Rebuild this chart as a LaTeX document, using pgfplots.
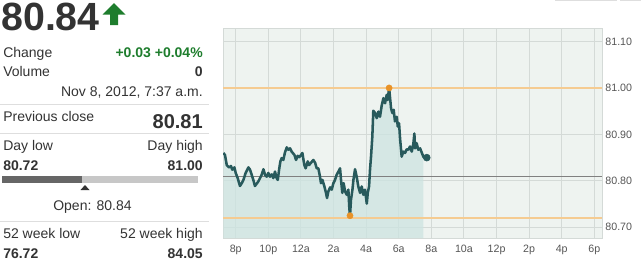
\documentclass[border=0pt]{standalone}
\usepackage{pgfplots}
\pgfplotsset{compat=1.18}
\usepackage{pgfplotstable}
\usepackage{fontspec}
\setmainfont{Liberation Sans}
\definecolor{bgc}{RGB}{238,243,240}
\definecolor{fillc}{RGB}{205,228,225}
\definecolor{gridc}{RGB}{212,218,215}
\definecolor{linec}{RGB}{40,90,92}
\definecolor{orangel}{RGB}{245,203,145}
\definecolor{oranged}{RGB}{232,146,40}
\definecolor{txt}{RGB}{51,51,51}
\definecolor{labc}{RGB}{85,85,85}
\definecolor{greenc}{RGB}{30,125,45}
\definecolor{sepc}{RGB}{222,222,222}

\pgfplotstableread{
h v
-0.76 80.860
-0.66 80.856
-0.55 80.834
-0.41 80.829
-0.29 80.832
-0.21 80.824
-0.08 80.829
0.00 80.817
0.12 80.806
0.26 80.789
0.37 80.795
0.47 80.802
0.61 80.817
0.78 80.829
0.88 80.824
0.98 80.813
1.08 80.802
1.18 80.789
1.31 80.795
1.39 80.799
1.49 80.806
1.59 80.813
1.70 80.825
1.80 80.813
1.90 80.809
2.00 80.817
2.10 80.809
2.21 80.814
2.31 80.806
2.41 80.820
2.51 80.806
2.58 80.802
2.66 80.824
2.74 80.842
2.82 80.849
2.92 80.845
3.02 80.861
3.13 80.872
3.23 80.867
3.33 80.870
3.43 80.863
3.60 80.856
3.70 80.845
3.80 80.854
3.90 80.851
4.01 80.856
4.09 80.860
4.21 80.834
4.29 80.827
4.42 80.842
4.50 80.834
4.62 80.839
4.76 80.845
4.87 80.839
4.97 80.827
5.07 80.827
5.17 80.809
5.23 80.795
5.32 80.802
5.44 80.788
5.54 80.774
5.60 80.763
5.68 80.777
5.79 80.786
5.89 80.781
5.99 80.795
6.09 80.802
6.19 80.813
6.30 80.820
6.40 80.827
6.46 80.802
6.54 80.774
6.62 80.795
6.71 80.777
6.81 80.770
6.91 80.781
6.97 80.741
7.01 80.725
7.07 80.759
7.16 80.781
7.22 80.802
7.32 80.825
7.42 80.809
7.52 80.788
7.63 80.774
7.73 80.788
7.83 80.770
7.93 80.781
8.04 80.751
8.10 80.774
8.18 80.788
8.24 80.825
8.30 80.852
8.38 80.895
8.44 80.951
8.55 80.946
8.65 80.935
8.75 80.949
8.85 80.938
8.96 80.963
9.06 80.978
9.16 80.967
9.26 80.985
9.32 80.974
9.41 81.000
9.47 80.978
9.53 80.956
9.61 80.946
9.69 80.953
9.77 80.928
9.88 80.938
9.94 80.917
10.02 80.924
10.08 80.892
10.18 80.852
10.28 80.863
10.39 80.860
10.49 80.868
10.59 80.867
10.69 80.874
10.80 80.863
10.90 80.881
10.96 80.902
11.00 80.870
11.10 80.881
11.20 80.867
11.31 80.870
11.41 80.861
11.51 80.852
11.61 80.849
11.72 80.850
}\pricedata

\pgfplotstableread{
h v
-0.76 80.677
-0.76 80.860
-0.66 80.856
-0.55 80.834
-0.41 80.829
-0.29 80.832
-0.21 80.824
-0.08 80.829
0.00 80.817
0.12 80.806
0.26 80.789
0.37 80.795
0.47 80.802
0.61 80.817
0.78 80.829
0.88 80.824
0.98 80.813
1.08 80.802
1.18 80.789
1.31 80.795
1.39 80.799
1.49 80.806
1.59 80.813
1.70 80.825
1.80 80.813
1.90 80.809
2.00 80.817
2.10 80.809
2.21 80.814
2.31 80.806
2.41 80.820
2.51 80.806
2.58 80.802
2.66 80.824
2.74 80.842
2.82 80.849
2.92 80.845
3.02 80.861
3.13 80.872
3.23 80.867
3.33 80.870
3.43 80.863
3.60 80.856
3.70 80.845
3.80 80.854
3.90 80.851
4.01 80.856
4.09 80.860
4.21 80.834
4.29 80.827
4.42 80.842
4.50 80.834
4.62 80.839
4.76 80.845
4.87 80.839
4.97 80.827
5.07 80.827
5.17 80.809
5.23 80.795
5.32 80.802
5.44 80.788
5.54 80.774
5.60 80.763
5.68 80.777
5.79 80.786
5.89 80.781
5.99 80.795
6.09 80.802
6.19 80.813
6.30 80.820
6.40 80.827
6.46 80.802
6.54 80.774
6.62 80.795
6.71 80.777
6.81 80.770
6.91 80.781
6.97 80.741
7.01 80.725
7.07 80.759
7.16 80.781
7.22 80.802
7.32 80.825
7.42 80.809
7.52 80.788
7.63 80.774
7.73 80.788
7.83 80.770
7.93 80.781
8.04 80.751
8.10 80.774
8.18 80.788
8.24 80.825
8.30 80.852
8.38 80.895
8.44 80.951
8.55 80.946
8.65 80.935
8.75 80.949
8.85 80.938
8.96 80.963
9.06 80.978
9.16 80.967
9.26 80.985
9.32 80.974
9.41 81.000
9.47 80.978
9.53 80.956
9.61 80.946
9.69 80.953
9.77 80.928
9.88 80.938
9.94 80.917
10.02 80.924
10.08 80.892
10.18 80.852
10.28 80.863
10.39 80.860
10.49 80.868
10.59 80.867
10.69 80.874
10.80 80.863
10.90 80.881
10.96 80.902
11.00 80.870
11.10 80.881
11.20 80.867
11.31 80.870
11.41 80.861
11.51 80.852
11.51 80.677
}\filldata

\begin{document}
\begin{tikzpicture}
\path[use as bounding box] (0pt,0pt) rectangle (480.75pt,-196.5pt);
\begin{axis}[
  at={(167.25pt,-21pt)}, anchor=north west,
  width=284.25pt, height=157.5pt, scale only axis,
  xmin=-0.78, xmax=22.47, ymin=80.677, ymax=81.129,
  xtick={0,2,...,22},
  xticklabels={8p,10p,12a,2a,4a,6a,8a,10a,12p,2p,4p,6p},
  ytick={80.7,80.8,80.9,81.0,81.1},
  yticklabels={80.70,80.80,80.90,81.00,81.10},
  yticklabel pos=right,
  tick style={draw=none},
  xmajorgrids=true, ymajorgrids=false,
  major grid style={draw=gridc, line width=0.75pt},
  axis background/.style={fill=bgc},
  axis line style={draw=gridc, line width=0.75pt},
  ticklabel style={font=\fontsize{8}{9}\selectfont, text=labc},
  xticklabel style={yshift=-2pt},
  yticklabel style={xshift=-1pt},
  clip=true,
]
\addplot[gridc, line width=0.75pt] coordinates {(-0.78,80.70) (22.47,80.70)};
\addplot[gridc, line width=0.75pt] coordinates {(-0.78,80.80) (22.47,80.80)};
\addplot[gridc, line width=0.75pt] coordinates {(-0.78,80.90) (22.47,80.90)};
\addplot[gridc, line width=0.75pt] coordinates {(-0.78,81.10) (22.47,81.10)};
\addplot[draw=none, fill=fillc, fill opacity=0.75] table {\filldata} -- cycle;
\addplot[orangel, line width=0.9pt] coordinates {(-0.78,81.00) (22.47,81.00)};
\addplot[orangel, line width=0.9pt] coordinates {(-0.78,80.72) (22.47,80.72)};
\addplot[gray, line width=0.75pt] coordinates {(-0.78,80.81) (22.47,80.81)};
\addplot[linec, line width=1.9pt, line join=round] table {\pricedata};
\addplot[only marks, mark=*, mark size=2.6pt, mark options={fill=linec, draw=linec}] coordinates {(11.72,80.850)};
\addplot[only marks, mark=*, mark size=2.3pt, mark options={fill=oranged, draw=oranged}] coordinates {(9.41,81.000) (7.01,80.725)};
\end{axis}

\begin{scope}[x=0.75pt, y=-0.75pt]
  \draw[sepc, line width=0.75pt] (555,0.5) -- (617,0.5);
  \draw[sepc, line width=0.75pt] (620,0.5) -- (641,0.5);
  \node[anchor=base west, inner sep=0, text=txt, font=\fontsize{29.5}{31}\selectfont\bfseries] at (1,30.5) {80.84};
  \fill[greenc] (102.5,14.5) -- (114,3) -- (125.5,14.5) -- (118,14.5) -- (118,25) -- (110,25) -- (110,14.5) -- cycle;
  \node[anchor=base west, inner sep=0, text=txt, font=\fontsize{10.5}{12}\selectfont] at (3,57) {Change};
  \node[anchor=base east, inner sep=0, text=greenc, font=\fontsize{10.5}{12}\selectfont\bfseries] at (203,57) {+0.03 +0.04\%};
  \node[anchor=base west, inner sep=0, text=txt, font=\fontsize{10.5}{12}\selectfont] at (3,76) {Volume};
  \node[anchor=base east, inner sep=0, text=txt, font=\fontsize{10.5}{12}\selectfont\bfseries] at (203,76) {0};
  \node[anchor=base east, inner sep=0, text=txt, font=\fontsize{10.5}{12}\selectfont] at (203,96) {Nov 8, 2012, 7:37 a.m.};
  \draw[sepc, line width=0.75pt] (0,104) -- (209,104);
  \node[anchor=base west, inner sep=0, text=txt, font=\fontsize{10.5}{12}\selectfont] at (3,121) {Previous close};
  \node[anchor=base east, inner sep=0, text=txt, font=\fontsize{15}{17}\selectfont\bfseries] at (203,128) {80.81};
  \draw[sepc, line width=0.75pt] (0,133.5) -- (209,133.5);
  \node[anchor=base west, inner sep=0, text=txt, font=\fontsize{10.5}{12}\selectfont] at (3,150) {Day low};
  \node[anchor=base east, inner sep=0, text=txt, font=\fontsize{10.5}{12}\selectfont] at (203,150) {Day high};
  \node[anchor=base west, inner sep=0, text=txt, font=\fontsize{10.5}{12}\selectfont\bfseries] at (3,170) {80.72};
  \node[anchor=base east, inner sep=0, text=txt, font=\fontsize{10.5}{12}\selectfont\bfseries] at (203,170) {81.00};
  \fill[black!22] (2,176) rectangle (198,183);
  \fill[black!60] (2,176) rectangle (82,183);
  \fill[black!80] (80.5,190) -- (85,185) -- (89.5,190) -- cycle;
  \node[anchor=base, inner sep=0, text=txt, font=\fontsize{10.5}{12}\selectfont] at (92.5,210) {Open: 80.84};
  \draw[sepc, line width=0.75pt] (0,221) -- (209,221);
  \node[anchor=base west, inner sep=0, text=txt, font=\fontsize{10.5}{12}\selectfont] at (3,238) {52 week low};
  \node[anchor=base east, inner sep=0, text=txt, font=\fontsize{10.5}{12}\selectfont] at (203,238) {52 week high};
  \node[anchor=base west, inner sep=0, text=txt, font=\fontsize{10.5}{12}\selectfont\bfseries] at (3,258) {76.72};
  \node[anchor=base east, inner sep=0, text=txt, font=\fontsize{10.5}{12}\selectfont\bfseries] at (203,258) {84.05};
\end{scope}
\end{tikzpicture}
\end{document}
